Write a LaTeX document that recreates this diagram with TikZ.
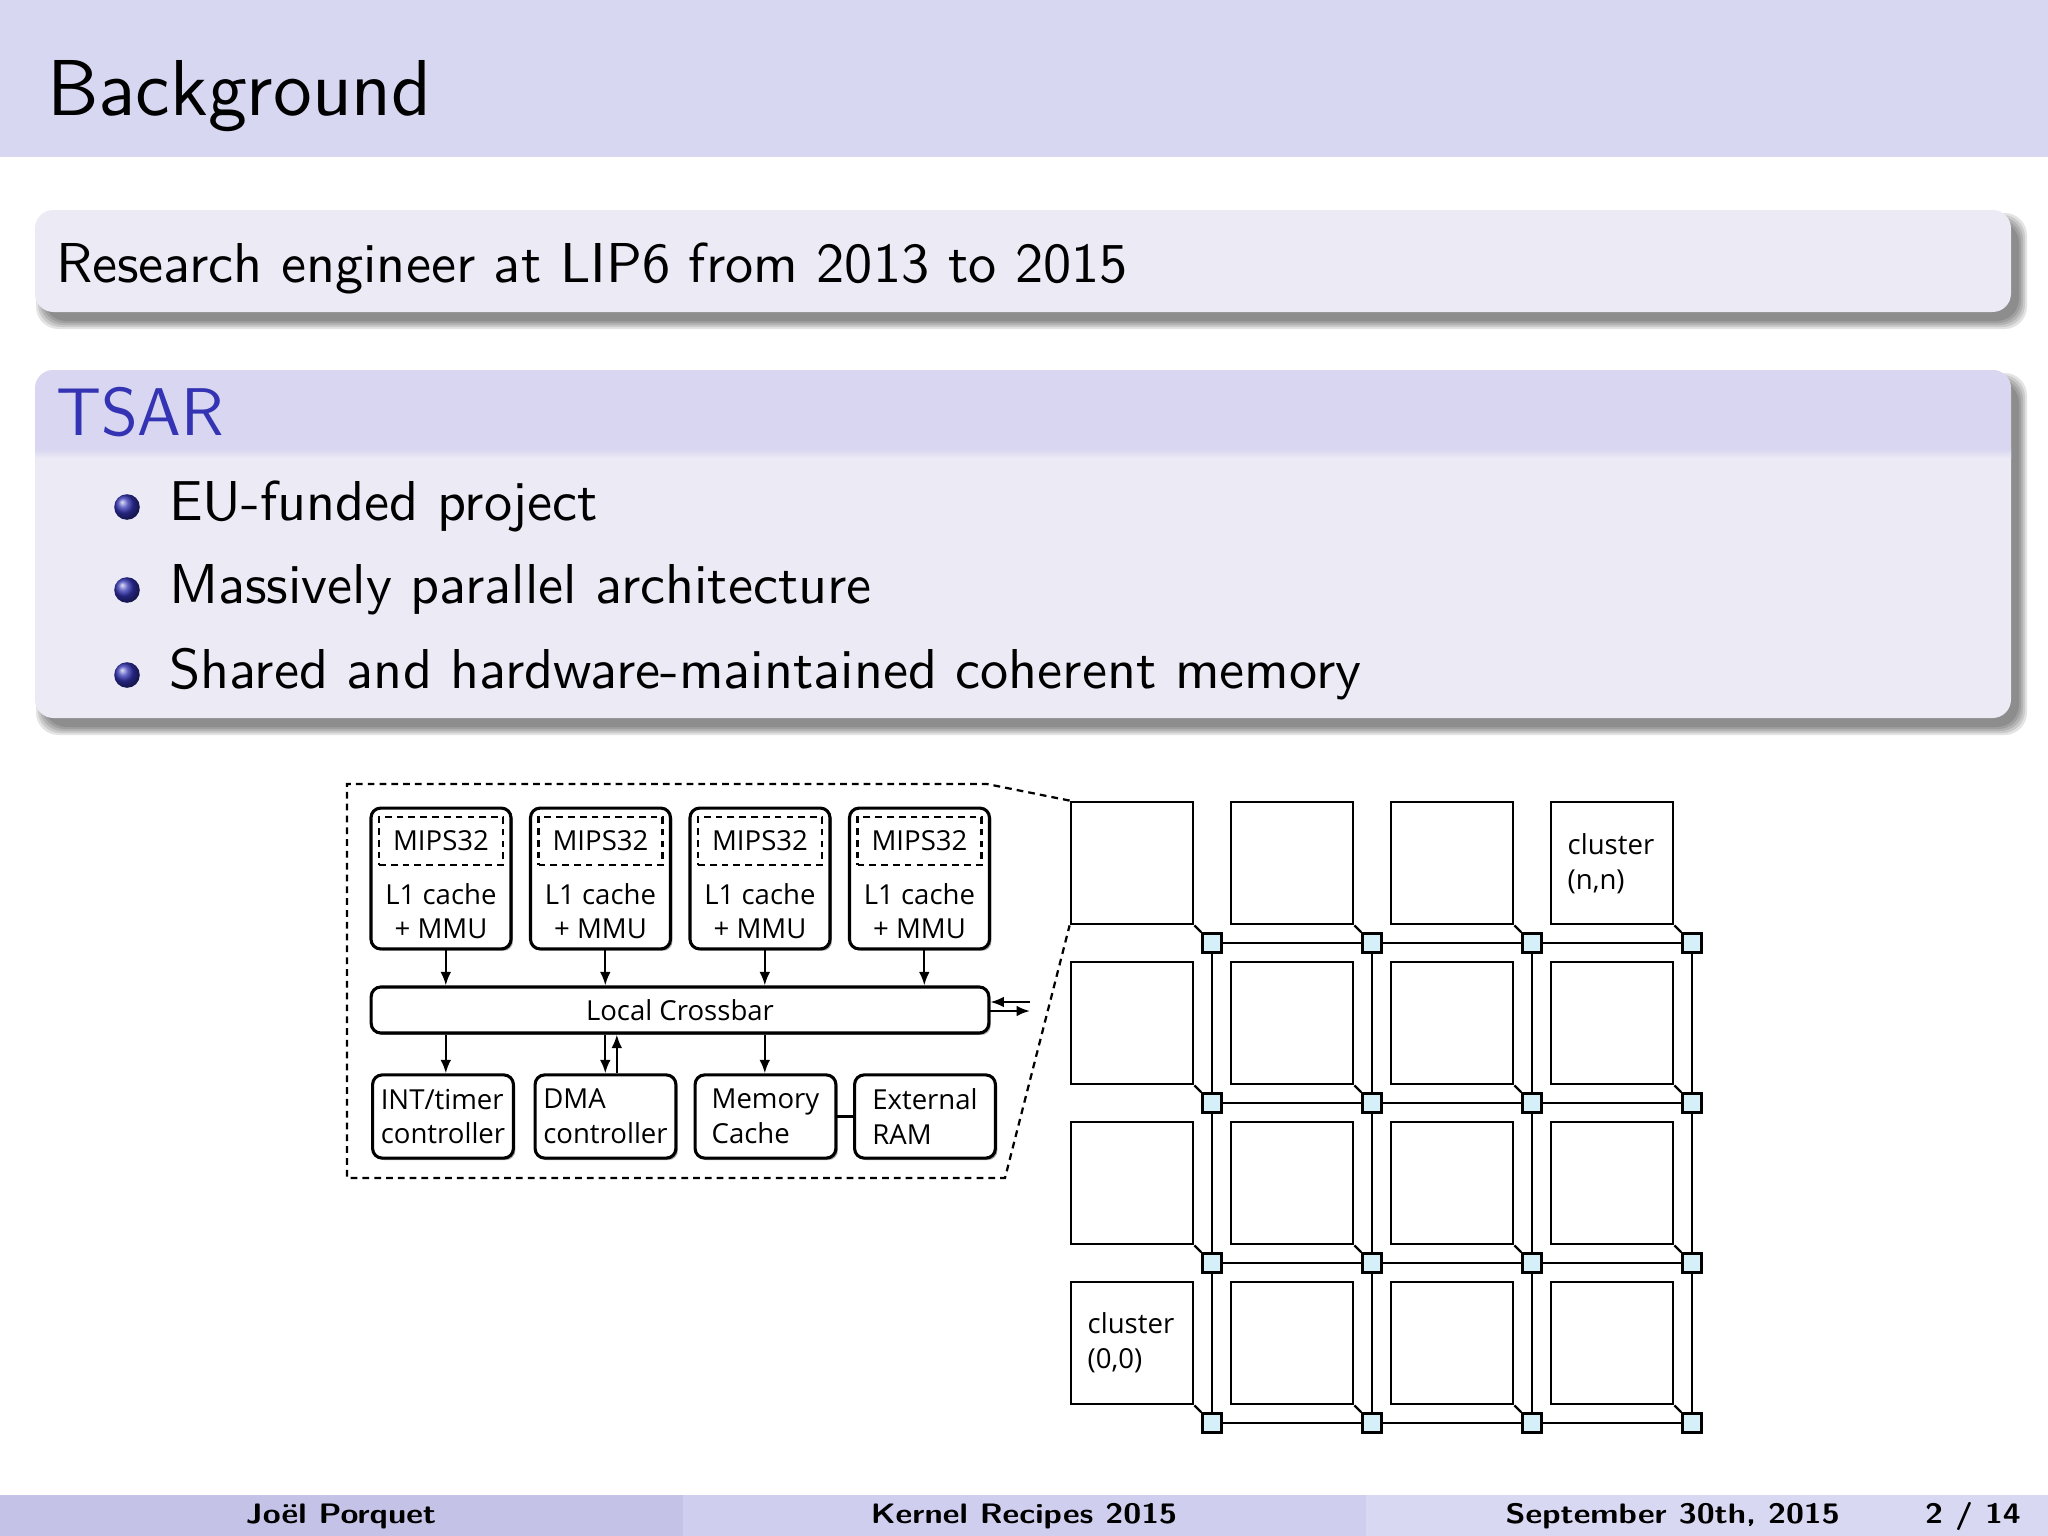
\documentclass[tikz,border=0pt]{standalone}
\usepackage{fontspec}
\usepackage{graphicx}
\newfontfamily\dfont{Open Sans}
\usetikzlibrary{arrows.meta,shadows,calc}
\pgfdeclarelayer{back}
\pgfdeclarelayer{wires}
\pgfsetlayers{back,wires,main}
\definecolor{hdr}{HTML}{D8D7F1}
\definecolor{blkbody}{HTML}{EBEAF5}
\definecolor{blktitle}{HTML}{D8D6F0}
\definecolor{struct}{HTML}{3333B3}
\definecolor{footA}{HTML}{C4C3E7}
\definecolor{footB}{HTML}{CFCEEE}
\definecolor{footC}{HTML}{D9D8F2}
\definecolor{routerfill}{HTML}{D6F0FA}
\newcommand\ftext[1]{\scalebox{1.16}[1.0]{#1}}
\tikzset{
  ttl/.style={anchor=base west, inner sep=0pt, font=\sffamily\fontsize{14.1}{17}\selectfont},
  bodytxt/.style={anchor=base west, inner sep=0pt, font=\sffamily\fontsize{10}{12}\selectfont},
  blkttl/.style={anchor=base west, inner sep=0pt, text=struct, font=\sffamily\fontsize{12}{14}\selectfont},
  foottxt/.style={anchor=base, inner sep=0pt, font=\sffamily\bfseries\fontsize{5}{6}\selectfont},
  dtxt/.style={inner sep=0pt, font=\dfont\fontsize{4.9}{6.2}\selectfont},
  boxshadow/.style={drop shadow={shadow xshift=0.35pt, shadow yshift=-0.35pt, fill=black!60, opacity=0.6}},
  cpubox/.style={draw, line width=0.55pt, rounded corners=0.6mm, fill=white, minimum width=8.75mm, minimum height=8.8mm, inner sep=0pt, boxshadow},
  mipsbox/.style={draw, line width=0.4pt, dash pattern=on 1.2pt off 0.9pt, minimum width=7.75mm, minimum height=3mm, inner sep=0pt, font=\dfont\fontsize{4.9}{6.2}\selectfont},
  xbarbox/.style={draw, line width=0.55pt, rounded corners=0.6mm, fill=white, minimum width=38.6mm, minimum height=2.875mm, inner sep=0pt, boxshadow, font=\dfont\fontsize{4.9}{6.2}\selectfont},
  periph/.style={draw, line width=0.55pt, rounded corners=0.6mm, fill=white, minimum width=8.8mm, minimum height=5.2mm, inner sep=0pt, align=left, boxshadow, font=\dfont\fontsize{4.9}{6.2}\selectfont},
  arr/.style={line width=0.4pt, -{Latex[length=2.4pt,width=1.9pt]}},
  plainline/.style={line width=0.45pt},
  outerdash/.style={line width=0.4pt, dash pattern=on 1.2pt off 0.9pt},
  cluster/.style={draw, line width=0.5pt, fill=white, minimum width=7.625mm, minimum height=7.625mm, inner sep=0pt},
  router/.style={draw, line width=0.45pt, fill=routerfill, minimum width=1.2mm, minimum height=1.2mm, inner sep=0pt},
  wire/.style={line width=0.42pt},
}
\newcommand\blkshadow[4]{%
  \foreach \d in {8,6,4,2,0}{%
    \fill[black,opacity=0.11,rounded corners=1.4mm] ({#1+9-\d},{#2+11-\d}) rectangle ({#3+8+\d},{#4+9+\d});
  }%
}
\begin{document}
\begin{tikzpicture}[x=0.0625mm,y=-0.0625mm]
\useasboundingbox (0,0) rectangle (2048,1536);
\begin{pgfonlayer}{back}
\fill[white] (0,0) rectangle (2048,1536);
\end{pgfonlayer}
% header
\fill[hdr] (0,0) rectangle (2048,157);
\node[ttl] (title) at (46,115) {Background};
% block 1
\blkshadow{35}{210}{2011}{312}
\fill[blkbody,rounded corners=1.15mm] (35,210) rectangle (2011,312);
\node[bodytxt] (research) at (55,282) {Research engineer at LIP6 from 2013 to 2015};
% block 2
\blkshadow{35}{370}{2011}{718}
\fill[blkbody,rounded corners=1.15mm] (35,370) rectangle (2011,718);
\begin{scope}
\clip[rounded corners=1.15mm] (35,370) rectangle (2011,718);
\fill[blktitle] (35,370) rectangle (2011,449);
\shade[top color=blktitle,bottom color=blkbody] (35,449) rectangle (2011,458);
\end{scope}
\node[blkttl] (tsar) at (55,435) {TSAR};
\foreach \yy/\txt [count=\k] in {520/EU-funded project,603/Massively parallel architecture,688/Shared and hardware-maintained coherent memory}{
  \shade[ball color=struct] (127,\yy-13) circle (0.8mm);
  \node[bodytxt] (item\k) at (168,\yy) {\txt};
}
% footer
\fill[footA] (0,1495) rectangle (683,1536);
\fill[footB] (683,1495) rectangle (1366,1536);
\fill[footC] (1366,1495) rectangle (2048,1536);
\node[foottxt] (author) at (341,1523) {\ftext{Joël Porquet}};
\node[foottxt] (event) at (1024,1523) {\ftext{Kernel Recipes 2015}};
\node[foottxt,anchor=base east] (date) at (1841,1523) {\ftext{September 30th, 2015}};
\node[foottxt,anchor=base east] (page) at (2022,1523) {\ftext{2 / 14}};

% ---------- cluster detail ----------
\foreach \n/\x in {1/441,2/600.5,3/760,4/919.5}{
  \node[cpubox] (cpu\n) at (\x,878.5) {};
  \node[mipsbox] (mips\n) at (\x,841) {MIPS32};
  \node[dtxt,anchor=base] (l1\n) at (\x,904) {\begin{tabular}[t]{@{}c@{}}L1 cache\\+ MMU\end{tabular}};
  \coordinate (a\n) at ([xshift=0.3mm]cpu\n.south);
}
\node[xbarbox] (xbar) at (680,1010) {Local Crossbar};
\foreach \n in {1,...,4}{
  \draw[arr] (a\n) -- (a\n |- xbar.north);
}
\node[periph] (int) at (443,1116.5) {INT/timer\\controller};
\node[periph] (dma) at (605.5,1116.5) {DMA\\controller};
\node[periph] (mem) at (765.5,1116.5) {Memory\\Cache};
\node[periph] (ext) at (925,1116.5) {External\\RAM};
\coordinate (a2u) at ([xshift=0.72mm]a2);
\draw[arr] (a1 |- xbar.south) -- (a1 |- int.north);
\draw[arr] (a2 |- xbar.south) -- (a2 |- dma.north);
\draw[arr] (a2u |- dma.north) -- (a2u |- xbar.south);
\draw[arr] (a3 |- xbar.south) -- (a3 |- mem.north);
\draw[plainline] (mem.east) -- (ext.west);
\coordinate (xin) at (1030,1002);
\coordinate (xout) at (1030,1011);
\draw[arr] (xin) -- (xin -| xbar.east);
\draw[arr] (xout -| xbar.east) -- (xout);

% ---------- mesh ----------
\foreach \i in {0,...,3}{
  \foreach \j in {0,...,3}{
    \node[cluster] (cl\i\j) at ({1132+160*\i},{863+160*\j}) {};
    \node[router] (r\i\j) at ({1212+160*\i},{943+160*\j}) {};
  }
}
\begin{pgfonlayer}{wires}
\foreach \j in {0,...,3}{ \draw[wire] (r0\j.center) -- (r3\j.center); }
\foreach \i in {0,...,3}{ \draw[wire] (r\i0.center) -- (r\i3.center); }
\foreach \i in {0,...,3}{
  \foreach \j in {0,...,3}{ \draw[wire] (cl\i\j.south east) -- (r\i\j.north west); }
}
\end{pgfonlayer}
\node[dtxt,anchor=base west] (lblnn) at ($(cl30.north west)+(17,54)$) {\begin{tabular}[t]{@{}l@{}}cluster\\(n,n)\end{tabular}};
\node[dtxt,anchor=base west] (lbl00) at ($(cl03.north west)+(17,53)$) {\begin{tabular}[t]{@{}l@{}}cluster\\(0,0)\end{tabular}};
\draw[outerdash] (cl00.north west) -- (987,784) -- (347,784) -- (347,1178) -- (1005,1178) -- (cl00.south west);
\end{tikzpicture}
\end{document}
